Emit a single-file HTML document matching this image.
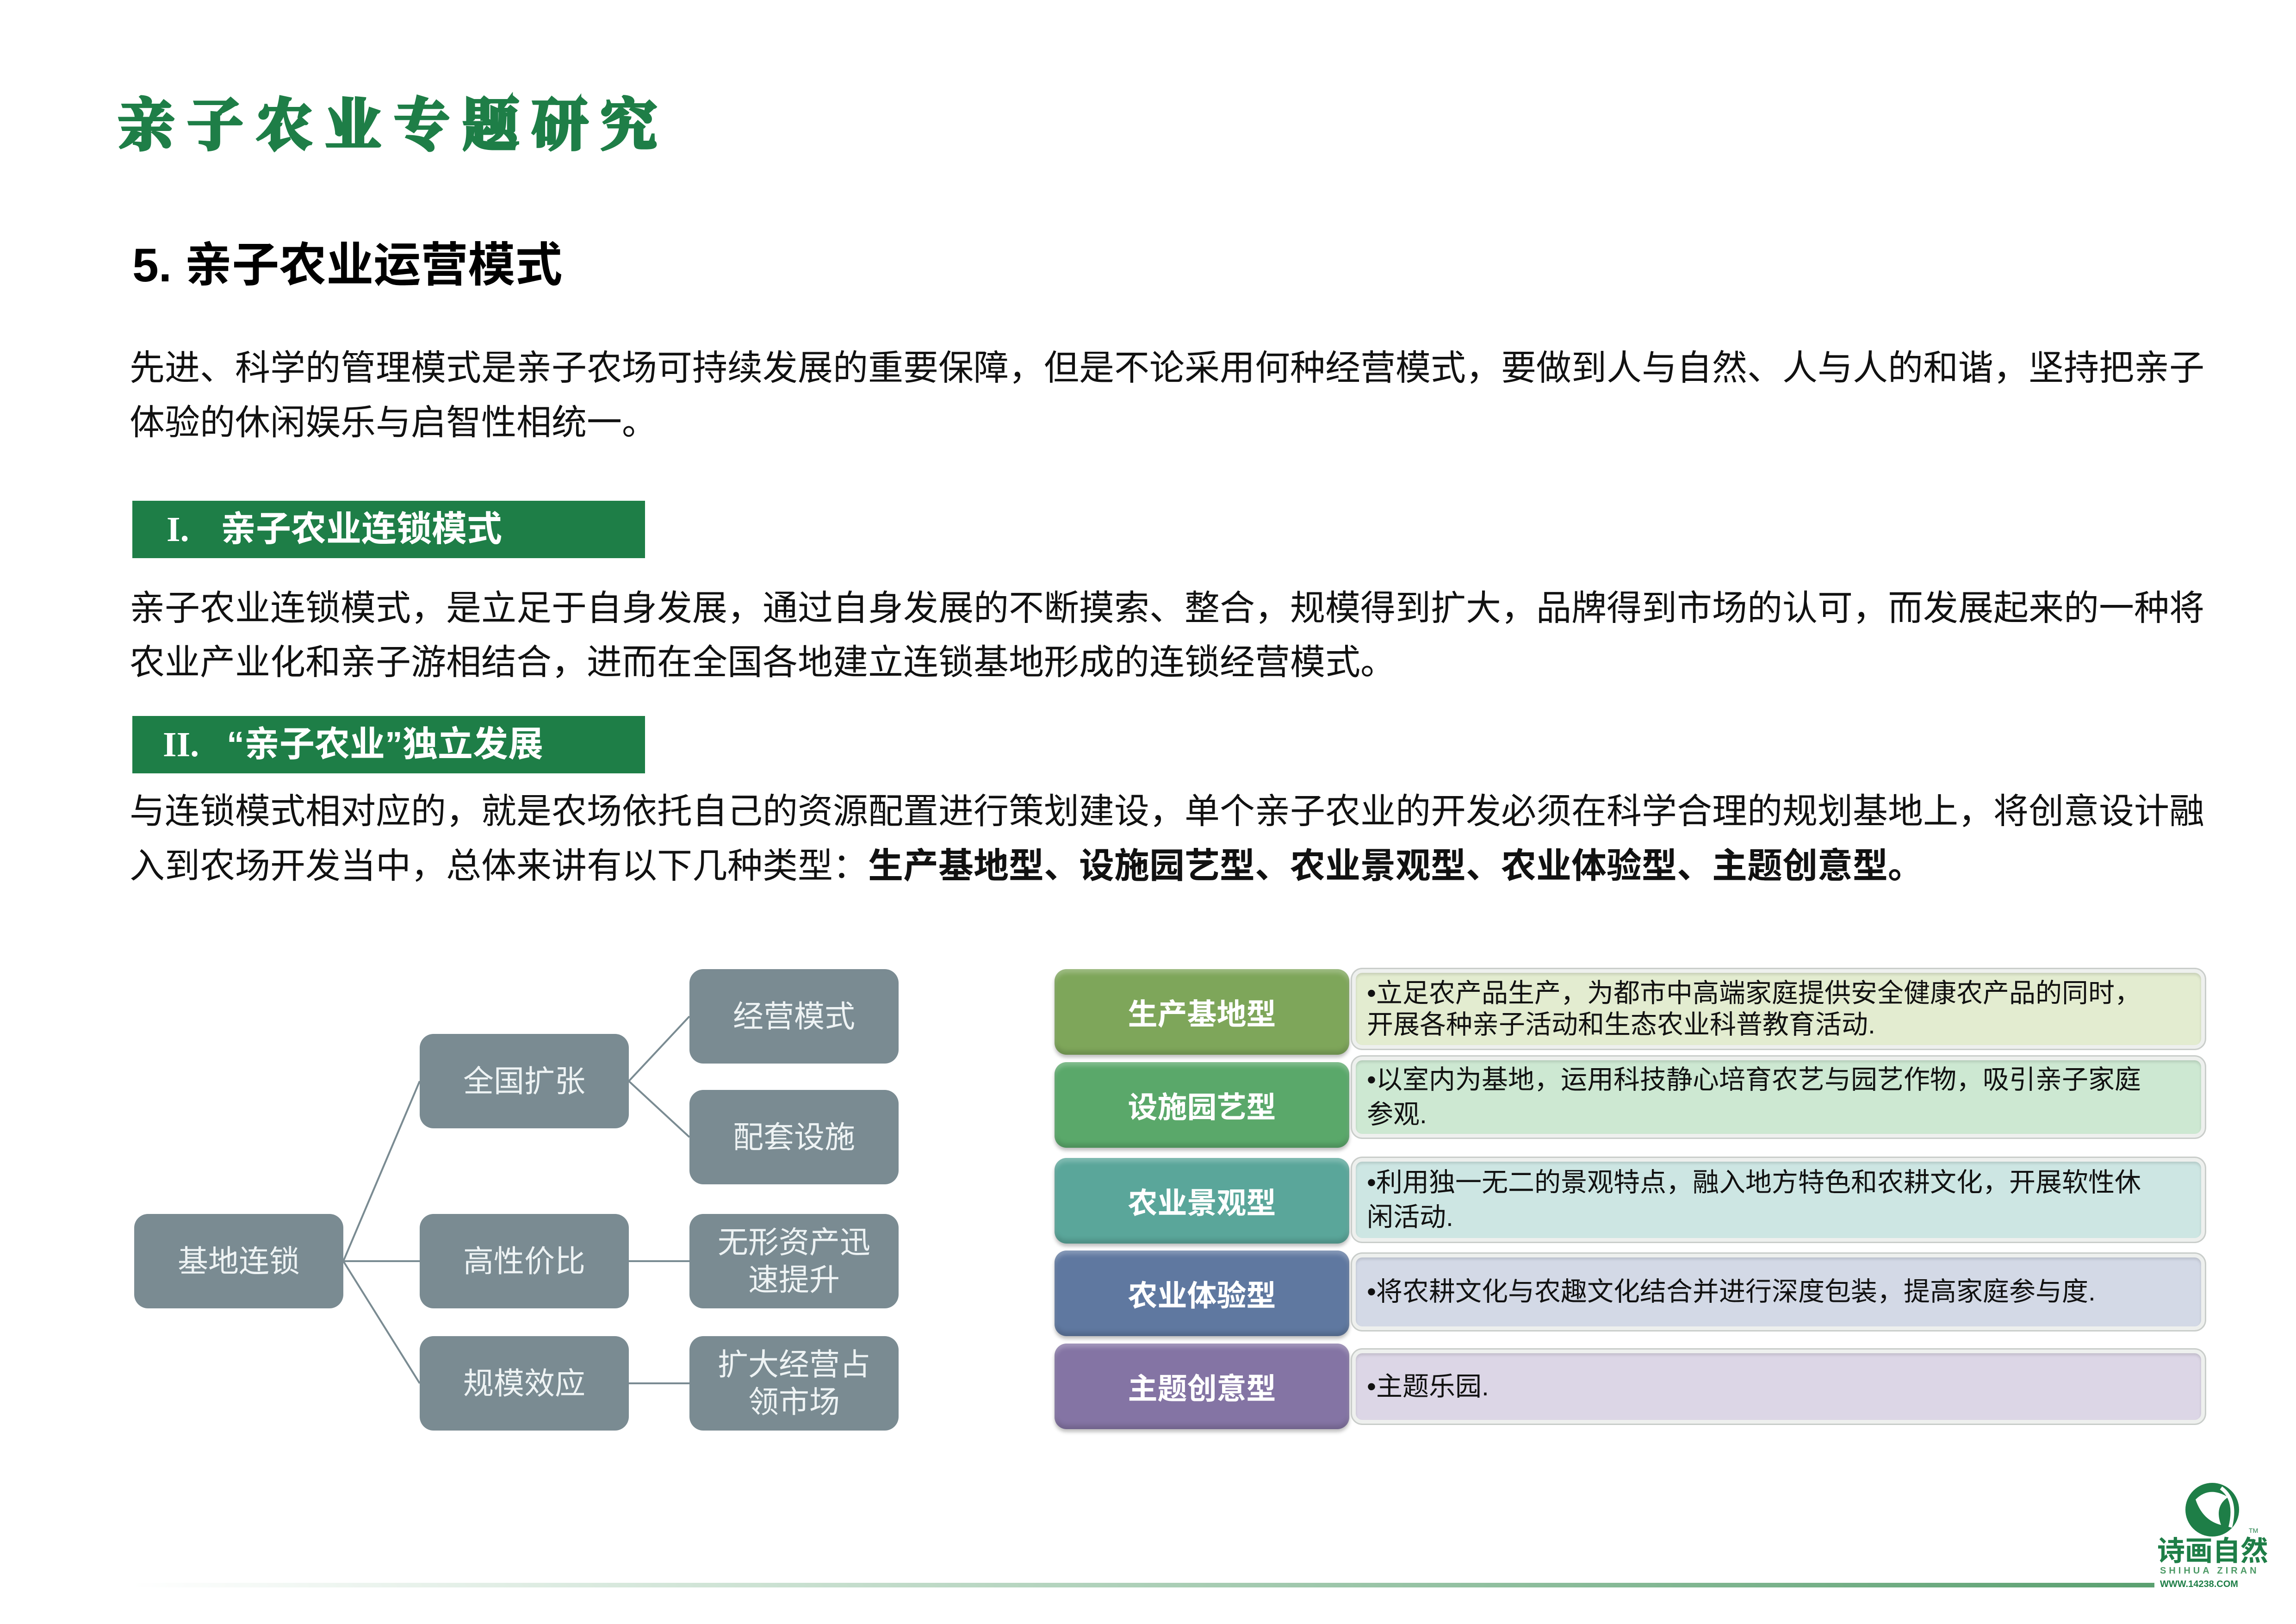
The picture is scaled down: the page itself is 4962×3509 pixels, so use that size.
<!DOCTYPE html>
<html><head><meta charset="utf-8"><style>
*{margin:0;padding:0;box-sizing:border-box}
body{width:4962px;height:3509px;background:#fff;position:relative;overflow:hidden;font-family:"Liberation Sans","Noto Sans CJK SC",sans-serif}
.a{position:absolute;white-space:nowrap;line-height:1}
.p{position:absolute;left:280px;width:4420px;font-size:76px;line-height:1;color:#111;white-space:nowrap}
.j{text-align:justify;text-align-last:justify}
.bar{position:absolute;left:286px;width:1108px;height:124px;background:#1e7e47}
.g{position:absolute;background:#7a8b92;border-radius:30px;color:#eef3f4;font-size:66px;display:flex;align-items:center;justify-content:center;text-align:center;line-height:1.22}
.lb{position:absolute;left:2279px;width:637px;border-radius:26px;color:#fff;font-weight:bold;font-size:64px;display:flex;align-items:center;justify-content:center;box-shadow:0 6px 8px rgba(0,0,0,.25), inset 0 8px 10px rgba(255,255,255,.25), inset 0 -8px 10px rgba(0,0,0,.15)}
.tb{position:absolute;left:2922px;width:1843px;border-radius:22px;border:8px solid #eef0ee;box-shadow:0 0 0 3px #c9cdca, inset 0 4px 6px rgba(0,0,0,.12);font-size:57px;color:#111;padding-left:24px;line-height:1.2;display:flex;flex-direction:column;justify-content:center}
</style></head><body>
<div class="a" style="left:255px;top:212px;font-size:122px;letter-spacing:27px;color:#1e7e47;font-weight:bold;-webkit-text-stroke:6px #1e7e47;font-family:'Liberation Serif','Noto Serif CJK SC',serif">亲子农业专题研究</div>
<div class="a" style="left:286px;top:522px;font-size:102px;font-weight:bold;color:#000">5. 亲子农业运营模式</div>

<div class="p j" style="top:758px">先进、科学的管理模式是亲子农场可持续发展的重要保障，但是不论采用何种经营模式，要做到人与自然、人与人的和谐，坚持把亲子</div>
<div class="p" style="top:876px">体验的休闲娱乐与启智性相统一。</div>

<div class="bar" style="top:1082px"></div>
<div class="a" style="left:360px;top:1106px;font-size:76px;color:#fff;font-weight:bold;font-family:'Liberation Serif',serif">I.</div>
<div class="a" style="left:477px;top:1106px;font-size:76px;color:#fff;font-weight:bold">亲子农业连锁模式</div>

<div class="p j" style="top:1277px">亲子农业连锁模式，是立足于自身发展，通过自身发展的不断摸索、整合，规模得到扩大，品牌得到市场的认可，而发展起来的一种将</div>
<div class="p" style="top:1394px">农业产业化和亲子游相结合，进而在全国各地建立连锁基地形成的连锁经营模式。</div>

<div class="bar" style="top:1547px"></div>
<div class="a" style="left:352px;top:1571px;font-size:76px;color:#fff;font-weight:bold;font-family:'Liberation Serif',serif">II.</div>
<div class="a" style="left:490px;top:1571px;font-size:76px;color:#fff;font-weight:bold">“亲子农业”独立发展</div>

<div class="p j" style="top:1716px">与连锁模式相对应的，就是农场依托自己的资源配置进行策划建设，单个亲子农业的开发必须在科学合理的规划基地上，将创意设计融</div>
<div class="p" style="top:1834px">入到农场开发当中，总体来讲有以下几种类型：<b>生产基地型、设施园艺型、农业景观型、农业体验型、主题创意型。</b></div>

<svg class="a" style="left:0;top:0" width="4962" height="3509">
<g stroke="#7a8b92" stroke-width="4" fill="none">
<line x1="742" y1="2725" x2="907" y2="2336"/>
<line x1="742" y1="2725" x2="907" y2="2725"/>
<line x1="742" y1="2725" x2="907" y2="2989"/>
<line x1="1359" y1="2336" x2="1490" y2="2196"/>
<line x1="1359" y1="2336" x2="1490" y2="2457"/>
<line x1="1359" y1="2725" x2="1490" y2="2725"/>
<line x1="1359" y1="2989" x2="1490" y2="2989"/>
</g>
<defs><linearGradient id="bl" x1="0" x2="1"><stop offset="0" stop-color="#fff"/><stop offset="1" stop-color="#5aa070"/></linearGradient></defs>
<rect x="286" y="3420" width="4370" height="10" fill="url(#bl)"/>
<circle cx="4781" cy="3262" r="58" fill="#1e7e47"/>
<path d="M4745 3240 q30 -30 70 -5 q-30 20 -15 60 q-40 -10 -55 -55z" fill="#fff"/>
<path d="M4800 3215 q35 25 20 85" stroke="#fff" stroke-width="8" fill="none"/>
</svg>

<div class="g" style="left:290px;top:2623px;width:452px;height:204px">基地连锁</div>
<div class="g" style="left:907px;top:2234px;width:452px;height:204px">全国扩张</div>
<div class="g" style="left:907px;top:2623px;width:452px;height:204px">高性价比</div>
<div class="g" style="left:907px;top:2887px;width:452px;height:204px">规模效应</div>
<div class="g" style="left:1490px;top:2094px;width:452px;height:204px">经营模式</div>
<div class="g" style="left:1490px;top:2355px;width:452px;height:204px">配套设施</div>
<div class="g" style="left:1490px;top:2623px;width:452px;height:204px">无形资产迅<br>速提升</div>
<div class="g" style="left:1490px;top:2887px;width:452px;height:204px">扩大经营占<br>领市场</div>

<div class="lb" style="top:2094px;height:185px;background:#7ea65a">生产基地型</div>
<div class="lb" style="top:2295px;height:185px;background:#5aa86a">设施园艺型</div>
<div class="lb" style="top:2502px;height:185px;background:#5aa69a">农业景观型</div>
<div class="lb" style="top:2702px;height:185px;background:#5f78a0">农业体验型</div>
<div class="lb" style="top:2903px;height:185px;background:#8474a4">主题创意型</div>

<div class="tb" style="top:2094px;height:172px;background:#e3ecd0">•立足农产品生产，为都市中高端家庭提供安全健康农产品的同时，<br>开展各种亲子活动和生态农业科普教育活动.</div>
<div class="tb" style="top:2283px;height:175px;background:#cde8d2;line-height:1.3">•以室内为基地，运用科技静心培育农艺与园艺作物，吸引亲子家庭<br>参观.</div>
<div class="tb" style="top:2502px;height:181px;background:#cde6e3;line-height:1.3">•利用独一无二的景观特点，融入地方特色和农耕文化，开展软性休<br>闲活动.</div>
<div class="tb" style="top:2709px;height:165px;background:#d3d9e6">•将农耕文化与农趣文化结合并进行深度包装，提高家庭参与度.</div>
<div class="tb" style="top:2916px;height:160px;background:#dcd6e6">•主题乐园.</div>

<div class="a" style="left:4662px;top:3322px;font-size:60px;font-weight:bold;color:#1e7e47">诗画自然</div>
<div class="a" style="left:4860px;top:3300px;font-size:14px;color:#1e7e47">TM</div>
<div class="a" style="left:4668px;top:3384px;font-size:20px;font-weight:bold;letter-spacing:6px;color:#4d9a66">SHIHUA ZIRAN</div>
<div class="a" style="left:4668px;top:3413px;font-size:20px;font-weight:bold;color:#1e7e47">WWW.14238.COM</div>
</body></html>
